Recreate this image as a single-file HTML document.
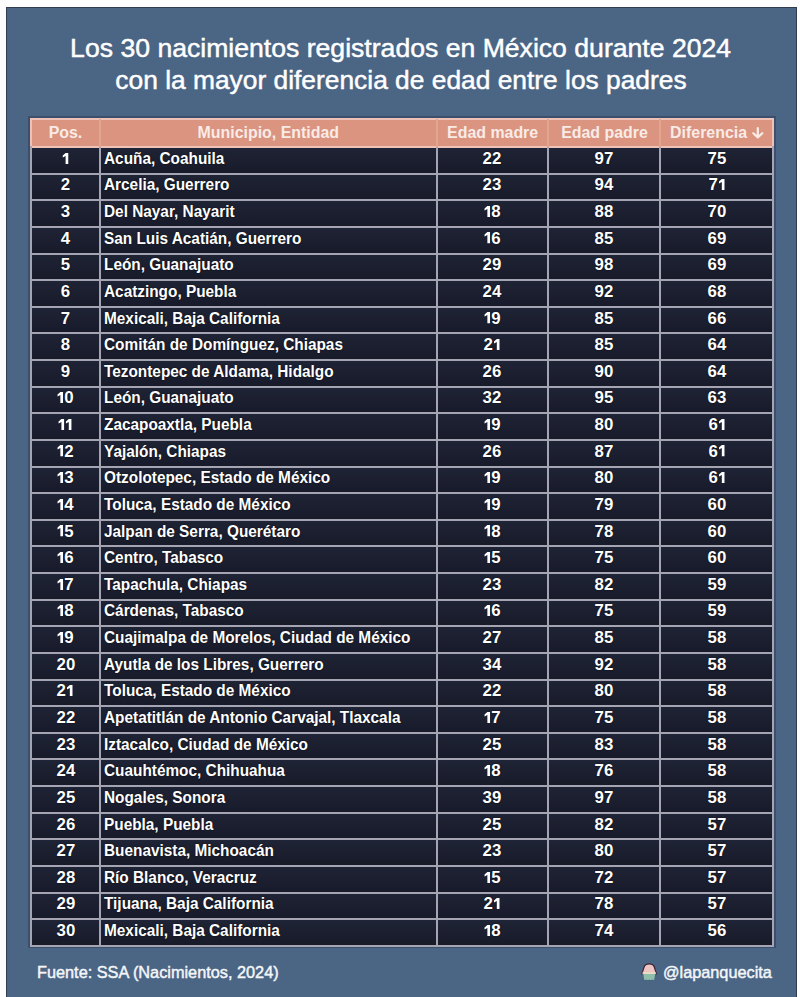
<!DOCTYPE html>
<html><head><meta charset="utf-8">
<style>
html,body{margin:0;padding:0;}
body{width:800px;height:997px;position:relative;overflow:hidden;background:#fdfdfd;font-family:"Liberation Sans",sans-serif;}
.panel{position:absolute;left:5.5px;top:6.8px;width:789.5px;height:995px;background:#4b6585;border:1.5px solid #2f3c52;border-bottom:none;}
.title{position:absolute;left:0;width:802px;text-align:center;color:#fff;font-size:25px;letter-spacing:0px;line-height:31px;white-space:nowrap;-webkit-text-stroke:0.45px #fff;}
.title span{display:inline-block;transform-origin:50% 50%;}
.halo{position:absolute;background:rgba(42,44,72,0.4);}
.tbl{position:absolute;background:#1b1f31;}
.hdr{position:absolute;background:#da9480;}
.hl,.vl{position:absolute;background:#a5a4b3;}
.hh{position:absolute;background:#eec2b6;}
.hv{position:absolute;background:#e2a690;}
.ht{position:absolute;text-align:center;color:#f9ebe6;font-weight:bold;font-size:15.6px;line-height:24px;white-space:nowrap;}
.ht span,.rt span{display:inline-block;transform-origin:50% 50%;}
.rt.l span{transform-origin:0 50%;}
.arr{vertical-align:-1px;}
.rt{position:absolute;text-align:center;color:#fff;font-weight:bold;font-size:16px;line-height:24px;white-space:nowrap;text-shadow:0 0 1.5px rgba(0,0,0,0.9);}
.rt.l{text-align:left;}
.one{vertical-align:baseline;}
.foot{position:absolute;color:#f4f6f8;font-size:16.3px;line-height:20px;white-space:nowrap;-webkit-text-stroke:0.45px #f4f6f8;}
</style></head><body>
<div class="panel"></div>
<div class="title" style="top:32.6px"><span style="transform:scaleX(1.064)">Los 30 nacimientos registrados en México durante 2024</span></div>
<div class="title" style="top:64.6px"><span style="transform:scaleX(1.054)">con la mayor diferencia de edad entre los padres</span></div>
<div class="halo" style="left:28.00px;top:116.40px;width:747.60px;height:832.10px"></div>
<div class="tbl" style="left:30.60px;top:147px;width:742.40px;height:27px;background:linear-gradient(to bottom,#1f2436,#171a29)"></div>
<div class="tbl" style="left:30.60px;top:174px;width:742.40px;height:26px;background:linear-gradient(to bottom,#1f2436,#171a29)"></div>
<div class="tbl" style="left:30.60px;top:200px;width:742.40px;height:27px;background:linear-gradient(to bottom,#1f2436,#171a29)"></div>
<div class="tbl" style="left:30.60px;top:227px;width:742.40px;height:27px;background:linear-gradient(to bottom,#1f2436,#171a29)"></div>
<div class="tbl" style="left:30.60px;top:254px;width:742.40px;height:26px;background:linear-gradient(to bottom,#1f2436,#171a29)"></div>
<div class="tbl" style="left:30.60px;top:280px;width:742.40px;height:27px;background:linear-gradient(to bottom,#1f2436,#171a29)"></div>
<div class="tbl" style="left:30.60px;top:307px;width:742.40px;height:26px;background:linear-gradient(to bottom,#1f2436,#171a29)"></div>
<div class="tbl" style="left:30.60px;top:333px;width:742.40px;height:27px;background:linear-gradient(to bottom,#1f2436,#171a29)"></div>
<div class="tbl" style="left:30.60px;top:360px;width:742.40px;height:27px;background:linear-gradient(to bottom,#1f2436,#171a29)"></div>
<div class="tbl" style="left:30.60px;top:387px;width:742.40px;height:26px;background:linear-gradient(to bottom,#1f2436,#171a29)"></div>
<div class="tbl" style="left:30.60px;top:413px;width:742.40px;height:27px;background:linear-gradient(to bottom,#1f2436,#171a29)"></div>
<div class="tbl" style="left:30.60px;top:440px;width:742.40px;height:27px;background:linear-gradient(to bottom,#1f2436,#171a29)"></div>
<div class="tbl" style="left:30.60px;top:467px;width:742.40px;height:26px;background:linear-gradient(to bottom,#1f2436,#171a29)"></div>
<div class="tbl" style="left:30.60px;top:493px;width:742.40px;height:27px;background:linear-gradient(to bottom,#1f2436,#171a29)"></div>
<div class="tbl" style="left:30.60px;top:520px;width:742.40px;height:26px;background:linear-gradient(to bottom,#1f2436,#171a29)"></div>
<div class="tbl" style="left:30.60px;top:546px;width:742.40px;height:27px;background:linear-gradient(to bottom,#1f2436,#171a29)"></div>
<div class="tbl" style="left:30.60px;top:573px;width:742.40px;height:27px;background:linear-gradient(to bottom,#1f2436,#171a29)"></div>
<div class="tbl" style="left:30.60px;top:600px;width:742.40px;height:26px;background:linear-gradient(to bottom,#1f2436,#171a29)"></div>
<div class="tbl" style="left:30.60px;top:626px;width:742.40px;height:27px;background:linear-gradient(to bottom,#1f2436,#171a29)"></div>
<div class="tbl" style="left:30.60px;top:653px;width:742.40px;height:27px;background:linear-gradient(to bottom,#1f2436,#171a29)"></div>
<div class="tbl" style="left:30.60px;top:680px;width:742.40px;height:26px;background:linear-gradient(to bottom,#1f2436,#171a29)"></div>
<div class="tbl" style="left:30.60px;top:706px;width:742.40px;height:27px;background:linear-gradient(to bottom,#1f2436,#171a29)"></div>
<div class="tbl" style="left:30.60px;top:733px;width:742.40px;height:26px;background:linear-gradient(to bottom,#1f2436,#171a29)"></div>
<div class="tbl" style="left:30.60px;top:759px;width:742.40px;height:27px;background:linear-gradient(to bottom,#1f2436,#171a29)"></div>
<div class="tbl" style="left:30.60px;top:786px;width:742.40px;height:27px;background:linear-gradient(to bottom,#1f2436,#171a29)"></div>
<div class="tbl" style="left:30.60px;top:813px;width:742.40px;height:26px;background:linear-gradient(to bottom,#1f2436,#171a29)"></div>
<div class="tbl" style="left:30.60px;top:839px;width:742.40px;height:27px;background:linear-gradient(to bottom,#1f2436,#171a29)"></div>
<div class="tbl" style="left:30.60px;top:866px;width:742.40px;height:27px;background:linear-gradient(to bottom,#1f2436,#171a29)"></div>
<div class="tbl" style="left:30.60px;top:893px;width:742.40px;height:26px;background:linear-gradient(to bottom,#1f2436,#171a29)"></div>
<div class="tbl" style="left:30.60px;top:919px;width:742.40px;height:27px;background:linear-gradient(to bottom,#1f2436,#171a29)"></div>
<div class="hdr" style="left:29.50px;top:117.90px;width:744.60px;height:29.10px"></div>
<div class="hh" style="left:29.50px;top:146px;width:744.60px;height:2px"></div>
<div class="hl" style="left:29.50px;top:173px;width:744.60px;height:2px"></div>
<div class="hl" style="left:29.50px;top:199px;width:744.60px;height:2px"></div>
<div class="hl" style="left:29.50px;top:226px;width:744.60px;height:2px"></div>
<div class="hl" style="left:29.50px;top:253px;width:744.60px;height:2px"></div>
<div class="hl" style="left:29.50px;top:279px;width:744.60px;height:2px"></div>
<div class="hl" style="left:29.50px;top:306px;width:744.60px;height:2px"></div>
<div class="hl" style="left:29.50px;top:332px;width:744.60px;height:2px"></div>
<div class="hl" style="left:29.50px;top:359px;width:744.60px;height:2px"></div>
<div class="hl" style="left:29.50px;top:386px;width:744.60px;height:2px"></div>
<div class="hl" style="left:29.50px;top:412px;width:744.60px;height:2px"></div>
<div class="hl" style="left:29.50px;top:439px;width:744.60px;height:2px"></div>
<div class="hl" style="left:29.50px;top:466px;width:744.60px;height:2px"></div>
<div class="hl" style="left:29.50px;top:492px;width:744.60px;height:2px"></div>
<div class="hl" style="left:29.50px;top:519px;width:744.60px;height:2px"></div>
<div class="hl" style="left:29.50px;top:545px;width:744.60px;height:2px"></div>
<div class="hl" style="left:29.50px;top:572px;width:744.60px;height:2px"></div>
<div class="hl" style="left:29.50px;top:599px;width:744.60px;height:2px"></div>
<div class="hl" style="left:29.50px;top:625px;width:744.60px;height:2px"></div>
<div class="hl" style="left:29.50px;top:652px;width:744.60px;height:2px"></div>
<div class="hl" style="left:29.50px;top:679px;width:744.60px;height:2px"></div>
<div class="hl" style="left:29.50px;top:705px;width:744.60px;height:2px"></div>
<div class="hl" style="left:29.50px;top:732px;width:744.60px;height:2px"></div>
<div class="hl" style="left:29.50px;top:758px;width:744.60px;height:2px"></div>
<div class="hl" style="left:29.50px;top:785px;width:744.60px;height:2px"></div>
<div class="hl" style="left:29.50px;top:812px;width:744.60px;height:2px"></div>
<div class="hl" style="left:29.50px;top:838px;width:744.60px;height:2px"></div>
<div class="hl" style="left:29.50px;top:865px;width:744.60px;height:2px"></div>
<div class="hl" style="left:29.50px;top:892px;width:744.60px;height:2px"></div>
<div class="hl" style="left:29.50px;top:918px;width:744.60px;height:2px"></div>
<div class="hl" style="left:29.50px;top:945px;width:744.60px;height:2px"></div>
<div class="vl" style="left:29.50px;top:145.90px;width:2.2px;height:801.10px"></div>
<div class="vl" style="left:99.20px;top:145.90px;width:2.2px;height:801.10px"></div>
<div class="vl" style="left:435.50px;top:145.90px;width:2.2px;height:801.10px"></div>
<div class="vl" style="left:546.70px;top:145.90px;width:2.2px;height:801.10px"></div>
<div class="vl" style="left:659.10px;top:145.90px;width:2.2px;height:801.10px"></div>
<div class="vl" style="left:771.90px;top:145.90px;width:2.2px;height:801.10px"></div>
<div class="hh" style="left:29.50px;top:118.00px;width:744.60px;height:2.0px"></div>
<div class="hh" style="left:29.60px;top:118.00px;width:2.0px;height:28.00px"></div>
<div class="hh" style="left:772.00px;top:118.00px;width:2.0px;height:28.00px"></div>
<div class="hv" style="left:99.30px;top:119.00px;width:2.0px;height:28.00px"></div>
<div class="hv" style="left:435.60px;top:119.00px;width:2.0px;height:28.00px"></div>
<div class="hv" style="left:546.80px;top:119.00px;width:2.0px;height:28.00px"></div>
<div class="hv" style="left:659.20px;top:119.00px;width:2.0px;height:28.00px"></div>
<div class="ht" style="left:30.60px;width:69.70px;top:120.89px"><span style="transform:scaleX(1.02)">Pos.</span></div>
<div class="ht" style="left:100.30px;width:336.30px;top:120.89px"><span style="transform:scaleX(1.02)">Municipio, Entidad</span></div>
<div class="ht" style="left:436.60px;width:111.20px;top:120.89px"><span style="transform:scaleX(1.02)">Edad madre</span></div>
<div class="ht" style="left:547.80px;width:112.40px;top:120.89px"><span style="transform:scaleX(1.02)">Edad padre</span></div>
<div class="ht" style="left:660.20px;width:112.80px;top:120.89px"><span style="transform:scaleX(1.02)">Diferencia <svg class="arr" width="12" height="12" viewBox="0 0 12 12"><path d="M6 1.2V10.4M1.6 6.2L6 10.4L10.4 6.2" stroke="#f9ebe6" stroke-width="2.2" fill="none" stroke-linecap="round" stroke-linejoin="round"/></svg></span></div>
<div class="rt" style="left:30.60px;width:69.70px;top:146.75px"><span style="transform:scaleX(1.05)"><svg class="one" width="7.2" height="11.2" viewBox="0 0 7.2 11.2"><path d="M3.6 0.1H6.15V11.2H3.6V3.1L0.9 4.6V2.5Z" fill="#fff"/></svg></span></div>
<div class="rt l" style="left:104.10px;width:336.3px;top:146.75px"><span style="transform:scaleX(0.96)">Acuña, Coahuila</span></div>
<div class="rt" style="left:436.60px;width:111.20px;top:146.75px"><span style="transform:scaleX(1.05)">22</span></div>
<div class="rt" style="left:547.80px;width:112.40px;top:146.75px"><span style="transform:scaleX(1.05)">97</span></div>
<div class="rt" style="left:660.20px;width:112.80px;top:146.75px"><span style="transform:scaleX(1.05)">75</span></div>
<div class="rt" style="left:30.60px;width:69.70px;top:173.38px"><span style="transform:scaleX(1.05)">2</span></div>
<div class="rt l" style="left:104.10px;width:336.3px;top:173.38px"><span style="transform:scaleX(0.96)">Arcelia, Guerrero</span></div>
<div class="rt" style="left:436.60px;width:111.20px;top:173.38px"><span style="transform:scaleX(1.05)">23</span></div>
<div class="rt" style="left:547.80px;width:112.40px;top:173.38px"><span style="transform:scaleX(1.05)">94</span></div>
<div class="rt" style="left:660.20px;width:112.80px;top:173.38px"><span style="transform:scaleX(1.05)">7<svg class="one" width="7.2" height="11.2" viewBox="0 0 7.2 11.2"><path d="M3.6 0.1H6.15V11.2H3.6V3.1L0.9 4.6V2.5Z" fill="#fff"/></svg></span></div>
<div class="rt" style="left:30.60px;width:69.70px;top:200.01px"><span style="transform:scaleX(1.05)">3</span></div>
<div class="rt l" style="left:104.10px;width:336.3px;top:200.01px"><span style="transform:scaleX(0.96)">Del Nayar, Nayarit</span></div>
<div class="rt" style="left:436.60px;width:111.20px;top:200.01px"><span style="transform:scaleX(1.05)"><svg class="one" width="7.2" height="11.2" viewBox="0 0 7.2 11.2"><path d="M3.6 0.1H6.15V11.2H3.6V3.1L0.9 4.6V2.5Z" fill="#fff"/></svg>8</span></div>
<div class="rt" style="left:547.80px;width:112.40px;top:200.01px"><span style="transform:scaleX(1.05)">88</span></div>
<div class="rt" style="left:660.20px;width:112.80px;top:200.01px"><span style="transform:scaleX(1.05)">70</span></div>
<div class="rt" style="left:30.60px;width:69.70px;top:226.64px"><span style="transform:scaleX(1.05)">4</span></div>
<div class="rt l" style="left:104.10px;width:336.3px;top:226.64px"><span style="transform:scaleX(0.96)">San Luis Acatián, Guerrero</span></div>
<div class="rt" style="left:436.60px;width:111.20px;top:226.64px"><span style="transform:scaleX(1.05)"><svg class="one" width="7.2" height="11.2" viewBox="0 0 7.2 11.2"><path d="M3.6 0.1H6.15V11.2H3.6V3.1L0.9 4.6V2.5Z" fill="#fff"/></svg>6</span></div>
<div class="rt" style="left:547.80px;width:112.40px;top:226.64px"><span style="transform:scaleX(1.05)">85</span></div>
<div class="rt" style="left:660.20px;width:112.80px;top:226.64px"><span style="transform:scaleX(1.05)">69</span></div>
<div class="rt" style="left:30.60px;width:69.70px;top:253.27px"><span style="transform:scaleX(1.05)">5</span></div>
<div class="rt l" style="left:104.10px;width:336.3px;top:253.27px"><span style="transform:scaleX(0.96)">León, Guanajuato</span></div>
<div class="rt" style="left:436.60px;width:111.20px;top:253.27px"><span style="transform:scaleX(1.05)">29</span></div>
<div class="rt" style="left:547.80px;width:112.40px;top:253.27px"><span style="transform:scaleX(1.05)">98</span></div>
<div class="rt" style="left:660.20px;width:112.80px;top:253.27px"><span style="transform:scaleX(1.05)">69</span></div>
<div class="rt" style="left:30.60px;width:69.70px;top:279.90px"><span style="transform:scaleX(1.05)">6</span></div>
<div class="rt l" style="left:104.10px;width:336.3px;top:279.90px"><span style="transform:scaleX(0.96)">Acatzingo, Puebla</span></div>
<div class="rt" style="left:436.60px;width:111.20px;top:279.90px"><span style="transform:scaleX(1.05)">24</span></div>
<div class="rt" style="left:547.80px;width:112.40px;top:279.90px"><span style="transform:scaleX(1.05)">92</span></div>
<div class="rt" style="left:660.20px;width:112.80px;top:279.90px"><span style="transform:scaleX(1.05)">68</span></div>
<div class="rt" style="left:30.60px;width:69.70px;top:306.53px"><span style="transform:scaleX(1.05)">7</span></div>
<div class="rt l" style="left:104.10px;width:336.3px;top:306.53px"><span style="transform:scaleX(0.96)">Mexicali, Baja California</span></div>
<div class="rt" style="left:436.60px;width:111.20px;top:306.53px"><span style="transform:scaleX(1.05)"><svg class="one" width="7.2" height="11.2" viewBox="0 0 7.2 11.2"><path d="M3.6 0.1H6.15V11.2H3.6V3.1L0.9 4.6V2.5Z" fill="#fff"/></svg>9</span></div>
<div class="rt" style="left:547.80px;width:112.40px;top:306.53px"><span style="transform:scaleX(1.05)">85</span></div>
<div class="rt" style="left:660.20px;width:112.80px;top:306.53px"><span style="transform:scaleX(1.05)">66</span></div>
<div class="rt" style="left:30.60px;width:69.70px;top:333.16px"><span style="transform:scaleX(1.05)">8</span></div>
<div class="rt l" style="left:104.10px;width:336.3px;top:333.16px"><span style="transform:scaleX(0.96)">Comitán de Domínguez, Chiapas</span></div>
<div class="rt" style="left:436.60px;width:111.20px;top:333.16px"><span style="transform:scaleX(1.05)">2<svg class="one" width="7.2" height="11.2" viewBox="0 0 7.2 11.2"><path d="M3.6 0.1H6.15V11.2H3.6V3.1L0.9 4.6V2.5Z" fill="#fff"/></svg></span></div>
<div class="rt" style="left:547.80px;width:112.40px;top:333.16px"><span style="transform:scaleX(1.05)">85</span></div>
<div class="rt" style="left:660.20px;width:112.80px;top:333.16px"><span style="transform:scaleX(1.05)">64</span></div>
<div class="rt" style="left:30.60px;width:69.70px;top:359.79px"><span style="transform:scaleX(1.05)">9</span></div>
<div class="rt l" style="left:104.10px;width:336.3px;top:359.79px"><span style="transform:scaleX(0.96)">Tezontepec de Aldama, Hidalgo</span></div>
<div class="rt" style="left:436.60px;width:111.20px;top:359.79px"><span style="transform:scaleX(1.05)">26</span></div>
<div class="rt" style="left:547.80px;width:112.40px;top:359.79px"><span style="transform:scaleX(1.05)">90</span></div>
<div class="rt" style="left:660.20px;width:112.80px;top:359.79px"><span style="transform:scaleX(1.05)">64</span></div>
<div class="rt" style="left:30.60px;width:69.70px;top:386.42px"><span style="transform:scaleX(1.05)"><svg class="one" width="7.2" height="11.2" viewBox="0 0 7.2 11.2"><path d="M3.6 0.1H6.15V11.2H3.6V3.1L0.9 4.6V2.5Z" fill="#fff"/></svg>0</span></div>
<div class="rt l" style="left:104.10px;width:336.3px;top:386.42px"><span style="transform:scaleX(0.96)">León, Guanajuato</span></div>
<div class="rt" style="left:436.60px;width:111.20px;top:386.42px"><span style="transform:scaleX(1.05)">32</span></div>
<div class="rt" style="left:547.80px;width:112.40px;top:386.42px"><span style="transform:scaleX(1.05)">95</span></div>
<div class="rt" style="left:660.20px;width:112.80px;top:386.42px"><span style="transform:scaleX(1.05)">63</span></div>
<div class="rt" style="left:30.60px;width:69.70px;top:413.05px"><span style="transform:scaleX(1.05)"><svg class="one" width="7.2" height="11.2" viewBox="0 0 7.2 11.2"><path d="M3.6 0.1H6.15V11.2H3.6V3.1L0.9 4.6V2.5Z" fill="#fff"/></svg><svg class="one" width="7.2" height="11.2" viewBox="0 0 7.2 11.2"><path d="M3.6 0.1H6.15V11.2H3.6V3.1L0.9 4.6V2.5Z" fill="#fff"/></svg></span></div>
<div class="rt l" style="left:104.10px;width:336.3px;top:413.05px"><span style="transform:scaleX(0.96)">Zacapoaxtla, Puebla</span></div>
<div class="rt" style="left:436.60px;width:111.20px;top:413.05px"><span style="transform:scaleX(1.05)"><svg class="one" width="7.2" height="11.2" viewBox="0 0 7.2 11.2"><path d="M3.6 0.1H6.15V11.2H3.6V3.1L0.9 4.6V2.5Z" fill="#fff"/></svg>9</span></div>
<div class="rt" style="left:547.80px;width:112.40px;top:413.05px"><span style="transform:scaleX(1.05)">80</span></div>
<div class="rt" style="left:660.20px;width:112.80px;top:413.05px"><span style="transform:scaleX(1.05)">6<svg class="one" width="7.2" height="11.2" viewBox="0 0 7.2 11.2"><path d="M3.6 0.1H6.15V11.2H3.6V3.1L0.9 4.6V2.5Z" fill="#fff"/></svg></span></div>
<div class="rt" style="left:30.60px;width:69.70px;top:439.68px"><span style="transform:scaleX(1.05)"><svg class="one" width="7.2" height="11.2" viewBox="0 0 7.2 11.2"><path d="M3.6 0.1H6.15V11.2H3.6V3.1L0.9 4.6V2.5Z" fill="#fff"/></svg>2</span></div>
<div class="rt l" style="left:104.10px;width:336.3px;top:439.68px"><span style="transform:scaleX(0.96)">Yajalón, Chiapas</span></div>
<div class="rt" style="left:436.60px;width:111.20px;top:439.68px"><span style="transform:scaleX(1.05)">26</span></div>
<div class="rt" style="left:547.80px;width:112.40px;top:439.68px"><span style="transform:scaleX(1.05)">87</span></div>
<div class="rt" style="left:660.20px;width:112.80px;top:439.68px"><span style="transform:scaleX(1.05)">6<svg class="one" width="7.2" height="11.2" viewBox="0 0 7.2 11.2"><path d="M3.6 0.1H6.15V11.2H3.6V3.1L0.9 4.6V2.5Z" fill="#fff"/></svg></span></div>
<div class="rt" style="left:30.60px;width:69.70px;top:466.31px"><span style="transform:scaleX(1.05)"><svg class="one" width="7.2" height="11.2" viewBox="0 0 7.2 11.2"><path d="M3.6 0.1H6.15V11.2H3.6V3.1L0.9 4.6V2.5Z" fill="#fff"/></svg>3</span></div>
<div class="rt l" style="left:104.10px;width:336.3px;top:466.31px"><span style="transform:scaleX(0.96)">Otzolotepec, Estado de México</span></div>
<div class="rt" style="left:436.60px;width:111.20px;top:466.31px"><span style="transform:scaleX(1.05)"><svg class="one" width="7.2" height="11.2" viewBox="0 0 7.2 11.2"><path d="M3.6 0.1H6.15V11.2H3.6V3.1L0.9 4.6V2.5Z" fill="#fff"/></svg>9</span></div>
<div class="rt" style="left:547.80px;width:112.40px;top:466.31px"><span style="transform:scaleX(1.05)">80</span></div>
<div class="rt" style="left:660.20px;width:112.80px;top:466.31px"><span style="transform:scaleX(1.05)">6<svg class="one" width="7.2" height="11.2" viewBox="0 0 7.2 11.2"><path d="M3.6 0.1H6.15V11.2H3.6V3.1L0.9 4.6V2.5Z" fill="#fff"/></svg></span></div>
<div class="rt" style="left:30.60px;width:69.70px;top:492.94px"><span style="transform:scaleX(1.05)"><svg class="one" width="7.2" height="11.2" viewBox="0 0 7.2 11.2"><path d="M3.6 0.1H6.15V11.2H3.6V3.1L0.9 4.6V2.5Z" fill="#fff"/></svg>4</span></div>
<div class="rt l" style="left:104.10px;width:336.3px;top:492.94px"><span style="transform:scaleX(0.96)">Toluca, Estado de México</span></div>
<div class="rt" style="left:436.60px;width:111.20px;top:492.94px"><span style="transform:scaleX(1.05)"><svg class="one" width="7.2" height="11.2" viewBox="0 0 7.2 11.2"><path d="M3.6 0.1H6.15V11.2H3.6V3.1L0.9 4.6V2.5Z" fill="#fff"/></svg>9</span></div>
<div class="rt" style="left:547.80px;width:112.40px;top:492.94px"><span style="transform:scaleX(1.05)">79</span></div>
<div class="rt" style="left:660.20px;width:112.80px;top:492.94px"><span style="transform:scaleX(1.05)">60</span></div>
<div class="rt" style="left:30.60px;width:69.70px;top:519.57px"><span style="transform:scaleX(1.05)"><svg class="one" width="7.2" height="11.2" viewBox="0 0 7.2 11.2"><path d="M3.6 0.1H6.15V11.2H3.6V3.1L0.9 4.6V2.5Z" fill="#fff"/></svg>5</span></div>
<div class="rt l" style="left:104.10px;width:336.3px;top:519.57px"><span style="transform:scaleX(0.96)">Jalpan de Serra, Querétaro</span></div>
<div class="rt" style="left:436.60px;width:111.20px;top:519.57px"><span style="transform:scaleX(1.05)"><svg class="one" width="7.2" height="11.2" viewBox="0 0 7.2 11.2"><path d="M3.6 0.1H6.15V11.2H3.6V3.1L0.9 4.6V2.5Z" fill="#fff"/></svg>8</span></div>
<div class="rt" style="left:547.80px;width:112.40px;top:519.57px"><span style="transform:scaleX(1.05)">78</span></div>
<div class="rt" style="left:660.20px;width:112.80px;top:519.57px"><span style="transform:scaleX(1.05)">60</span></div>
<div class="rt" style="left:30.60px;width:69.70px;top:546.20px"><span style="transform:scaleX(1.05)"><svg class="one" width="7.2" height="11.2" viewBox="0 0 7.2 11.2"><path d="M3.6 0.1H6.15V11.2H3.6V3.1L0.9 4.6V2.5Z" fill="#fff"/></svg>6</span></div>
<div class="rt l" style="left:104.10px;width:336.3px;top:546.20px"><span style="transform:scaleX(0.96)">Centro, Tabasco</span></div>
<div class="rt" style="left:436.60px;width:111.20px;top:546.20px"><span style="transform:scaleX(1.05)"><svg class="one" width="7.2" height="11.2" viewBox="0 0 7.2 11.2"><path d="M3.6 0.1H6.15V11.2H3.6V3.1L0.9 4.6V2.5Z" fill="#fff"/></svg>5</span></div>
<div class="rt" style="left:547.80px;width:112.40px;top:546.20px"><span style="transform:scaleX(1.05)">75</span></div>
<div class="rt" style="left:660.20px;width:112.80px;top:546.20px"><span style="transform:scaleX(1.05)">60</span></div>
<div class="rt" style="left:30.60px;width:69.70px;top:572.83px"><span style="transform:scaleX(1.05)"><svg class="one" width="7.2" height="11.2" viewBox="0 0 7.2 11.2"><path d="M3.6 0.1H6.15V11.2H3.6V3.1L0.9 4.6V2.5Z" fill="#fff"/></svg>7</span></div>
<div class="rt l" style="left:104.10px;width:336.3px;top:572.83px"><span style="transform:scaleX(0.96)">Tapachula, Chiapas</span></div>
<div class="rt" style="left:436.60px;width:111.20px;top:572.83px"><span style="transform:scaleX(1.05)">23</span></div>
<div class="rt" style="left:547.80px;width:112.40px;top:572.83px"><span style="transform:scaleX(1.05)">82</span></div>
<div class="rt" style="left:660.20px;width:112.80px;top:572.83px"><span style="transform:scaleX(1.05)">59</span></div>
<div class="rt" style="left:30.60px;width:69.70px;top:599.46px"><span style="transform:scaleX(1.05)"><svg class="one" width="7.2" height="11.2" viewBox="0 0 7.2 11.2"><path d="M3.6 0.1H6.15V11.2H3.6V3.1L0.9 4.6V2.5Z" fill="#fff"/></svg>8</span></div>
<div class="rt l" style="left:104.10px;width:336.3px;top:599.46px"><span style="transform:scaleX(0.96)">Cárdenas, Tabasco</span></div>
<div class="rt" style="left:436.60px;width:111.20px;top:599.46px"><span style="transform:scaleX(1.05)"><svg class="one" width="7.2" height="11.2" viewBox="0 0 7.2 11.2"><path d="M3.6 0.1H6.15V11.2H3.6V3.1L0.9 4.6V2.5Z" fill="#fff"/></svg>6</span></div>
<div class="rt" style="left:547.80px;width:112.40px;top:599.46px"><span style="transform:scaleX(1.05)">75</span></div>
<div class="rt" style="left:660.20px;width:112.80px;top:599.46px"><span style="transform:scaleX(1.05)">59</span></div>
<div class="rt" style="left:30.60px;width:69.70px;top:626.09px"><span style="transform:scaleX(1.05)"><svg class="one" width="7.2" height="11.2" viewBox="0 0 7.2 11.2"><path d="M3.6 0.1H6.15V11.2H3.6V3.1L0.9 4.6V2.5Z" fill="#fff"/></svg>9</span></div>
<div class="rt l" style="left:104.10px;width:336.3px;top:626.09px"><span style="transform:scaleX(0.96)">Cuajimalpa de Morelos, Ciudad de México</span></div>
<div class="rt" style="left:436.60px;width:111.20px;top:626.09px"><span style="transform:scaleX(1.05)">27</span></div>
<div class="rt" style="left:547.80px;width:112.40px;top:626.09px"><span style="transform:scaleX(1.05)">85</span></div>
<div class="rt" style="left:660.20px;width:112.80px;top:626.09px"><span style="transform:scaleX(1.05)">58</span></div>
<div class="rt" style="left:30.60px;width:69.70px;top:652.72px"><span style="transform:scaleX(1.05)">20</span></div>
<div class="rt l" style="left:104.10px;width:336.3px;top:652.72px"><span style="transform:scaleX(0.96)">Ayutla de los Libres, Guerrero</span></div>
<div class="rt" style="left:436.60px;width:111.20px;top:652.72px"><span style="transform:scaleX(1.05)">34</span></div>
<div class="rt" style="left:547.80px;width:112.40px;top:652.72px"><span style="transform:scaleX(1.05)">92</span></div>
<div class="rt" style="left:660.20px;width:112.80px;top:652.72px"><span style="transform:scaleX(1.05)">58</span></div>
<div class="rt" style="left:30.60px;width:69.70px;top:679.35px"><span style="transform:scaleX(1.05)">2<svg class="one" width="7.2" height="11.2" viewBox="0 0 7.2 11.2"><path d="M3.6 0.1H6.15V11.2H3.6V3.1L0.9 4.6V2.5Z" fill="#fff"/></svg></span></div>
<div class="rt l" style="left:104.10px;width:336.3px;top:679.35px"><span style="transform:scaleX(0.96)">Toluca, Estado de México</span></div>
<div class="rt" style="left:436.60px;width:111.20px;top:679.35px"><span style="transform:scaleX(1.05)">22</span></div>
<div class="rt" style="left:547.80px;width:112.40px;top:679.35px"><span style="transform:scaleX(1.05)">80</span></div>
<div class="rt" style="left:660.20px;width:112.80px;top:679.35px"><span style="transform:scaleX(1.05)">58</span></div>
<div class="rt" style="left:30.60px;width:69.70px;top:705.98px"><span style="transform:scaleX(1.05)">22</span></div>
<div class="rt l" style="left:104.10px;width:336.3px;top:705.98px"><span style="transform:scaleX(0.96)">Apetatitlán de Antonio Carvajal, Tlaxcala</span></div>
<div class="rt" style="left:436.60px;width:111.20px;top:705.98px"><span style="transform:scaleX(1.05)"><svg class="one" width="7.2" height="11.2" viewBox="0 0 7.2 11.2"><path d="M3.6 0.1H6.15V11.2H3.6V3.1L0.9 4.6V2.5Z" fill="#fff"/></svg>7</span></div>
<div class="rt" style="left:547.80px;width:112.40px;top:705.98px"><span style="transform:scaleX(1.05)">75</span></div>
<div class="rt" style="left:660.20px;width:112.80px;top:705.98px"><span style="transform:scaleX(1.05)">58</span></div>
<div class="rt" style="left:30.60px;width:69.70px;top:732.61px"><span style="transform:scaleX(1.05)">23</span></div>
<div class="rt l" style="left:104.10px;width:336.3px;top:732.61px"><span style="transform:scaleX(0.96)">Iztacalco, Ciudad de México</span></div>
<div class="rt" style="left:436.60px;width:111.20px;top:732.61px"><span style="transform:scaleX(1.05)">25</span></div>
<div class="rt" style="left:547.80px;width:112.40px;top:732.61px"><span style="transform:scaleX(1.05)">83</span></div>
<div class="rt" style="left:660.20px;width:112.80px;top:732.61px"><span style="transform:scaleX(1.05)">58</span></div>
<div class="rt" style="left:30.60px;width:69.70px;top:759.24px"><span style="transform:scaleX(1.05)">24</span></div>
<div class="rt l" style="left:104.10px;width:336.3px;top:759.24px"><span style="transform:scaleX(0.96)">Cuauhtémoc, Chihuahua</span></div>
<div class="rt" style="left:436.60px;width:111.20px;top:759.24px"><span style="transform:scaleX(1.05)"><svg class="one" width="7.2" height="11.2" viewBox="0 0 7.2 11.2"><path d="M3.6 0.1H6.15V11.2H3.6V3.1L0.9 4.6V2.5Z" fill="#fff"/></svg>8</span></div>
<div class="rt" style="left:547.80px;width:112.40px;top:759.24px"><span style="transform:scaleX(1.05)">76</span></div>
<div class="rt" style="left:660.20px;width:112.80px;top:759.24px"><span style="transform:scaleX(1.05)">58</span></div>
<div class="rt" style="left:30.60px;width:69.70px;top:785.87px"><span style="transform:scaleX(1.05)">25</span></div>
<div class="rt l" style="left:104.10px;width:336.3px;top:785.87px"><span style="transform:scaleX(0.96)">Nogales, Sonora</span></div>
<div class="rt" style="left:436.60px;width:111.20px;top:785.87px"><span style="transform:scaleX(1.05)">39</span></div>
<div class="rt" style="left:547.80px;width:112.40px;top:785.87px"><span style="transform:scaleX(1.05)">97</span></div>
<div class="rt" style="left:660.20px;width:112.80px;top:785.87px"><span style="transform:scaleX(1.05)">58</span></div>
<div class="rt" style="left:30.60px;width:69.70px;top:812.50px"><span style="transform:scaleX(1.05)">26</span></div>
<div class="rt l" style="left:104.10px;width:336.3px;top:812.50px"><span style="transform:scaleX(0.96)">Puebla, Puebla</span></div>
<div class="rt" style="left:436.60px;width:111.20px;top:812.50px"><span style="transform:scaleX(1.05)">25</span></div>
<div class="rt" style="left:547.80px;width:112.40px;top:812.50px"><span style="transform:scaleX(1.05)">82</span></div>
<div class="rt" style="left:660.20px;width:112.80px;top:812.50px"><span style="transform:scaleX(1.05)">57</span></div>
<div class="rt" style="left:30.60px;width:69.70px;top:839.13px"><span style="transform:scaleX(1.05)">27</span></div>
<div class="rt l" style="left:104.10px;width:336.3px;top:839.13px"><span style="transform:scaleX(0.96)">Buenavista, Michoacán</span></div>
<div class="rt" style="left:436.60px;width:111.20px;top:839.13px"><span style="transform:scaleX(1.05)">23</span></div>
<div class="rt" style="left:547.80px;width:112.40px;top:839.13px"><span style="transform:scaleX(1.05)">80</span></div>
<div class="rt" style="left:660.20px;width:112.80px;top:839.13px"><span style="transform:scaleX(1.05)">57</span></div>
<div class="rt" style="left:30.60px;width:69.70px;top:865.76px"><span style="transform:scaleX(1.05)">28</span></div>
<div class="rt l" style="left:104.10px;width:336.3px;top:865.76px"><span style="transform:scaleX(0.96)">Río Blanco, Veracruz</span></div>
<div class="rt" style="left:436.60px;width:111.20px;top:865.76px"><span style="transform:scaleX(1.05)"><svg class="one" width="7.2" height="11.2" viewBox="0 0 7.2 11.2"><path d="M3.6 0.1H6.15V11.2H3.6V3.1L0.9 4.6V2.5Z" fill="#fff"/></svg>5</span></div>
<div class="rt" style="left:547.80px;width:112.40px;top:865.76px"><span style="transform:scaleX(1.05)">72</span></div>
<div class="rt" style="left:660.20px;width:112.80px;top:865.76px"><span style="transform:scaleX(1.05)">57</span></div>
<div class="rt" style="left:30.60px;width:69.70px;top:892.39px"><span style="transform:scaleX(1.05)">29</span></div>
<div class="rt l" style="left:104.10px;width:336.3px;top:892.39px"><span style="transform:scaleX(0.96)">Tijuana, Baja California</span></div>
<div class="rt" style="left:436.60px;width:111.20px;top:892.39px"><span style="transform:scaleX(1.05)">2<svg class="one" width="7.2" height="11.2" viewBox="0 0 7.2 11.2"><path d="M3.6 0.1H6.15V11.2H3.6V3.1L0.9 4.6V2.5Z" fill="#fff"/></svg></span></div>
<div class="rt" style="left:547.80px;width:112.40px;top:892.39px"><span style="transform:scaleX(1.05)">78</span></div>
<div class="rt" style="left:660.20px;width:112.80px;top:892.39px"><span style="transform:scaleX(1.05)">57</span></div>
<div class="rt" style="left:30.60px;width:69.70px;top:919.02px"><span style="transform:scaleX(1.05)">30</span></div>
<div class="rt l" style="left:104.10px;width:336.3px;top:919.02px"><span style="transform:scaleX(0.96)">Mexicali, Baja California</span></div>
<div class="rt" style="left:436.60px;width:111.20px;top:919.02px"><span style="transform:scaleX(1.05)"><svg class="one" width="7.2" height="11.2" viewBox="0 0 7.2 11.2"><path d="M3.6 0.1H6.15V11.2H3.6V3.1L0.9 4.6V2.5Z" fill="#fff"/></svg>8</span></div>
<div class="rt" style="left:547.80px;width:112.40px;top:919.02px"><span style="transform:scaleX(1.05)">74</span></div>
<div class="rt" style="left:660.20px;width:112.80px;top:919.02px"><span style="transform:scaleX(1.05)">56</span></div>
<div class="foot" style="left:37px;top:962px">Fuente: SSA (Nacimientos, 2024)</div>
<div class="foot" style="left:663px;top:962px">@lapanquecita</div>
<svg style="position:absolute;left:638px;top:961px" width="22" height="22" viewBox="638 961 22 22">
<path d="M641.2 974.3 L643.6 966.4 C644.6 964.2 646.6 963.3 649.2 963.3 C651.8 963.3 653.8 964.2 654.8 966.4 L657.2 974.3 Z" fill="#3d2732"/>
<path d="M642.7 973.3 L644.8 967 C645.6 965.3 647.2 964.6 649.2 964.6 C651.2 964.6 652.8 965.3 653.6 967 L655.7 973.3 Z" fill="#efc5c3"/>
<rect x="642.6" y="972.2" width="13.2" height="1.9" fill="#e9dcc4"/>
<path d="M643.3 974.1 H655.1 L654.3 979.4 Q653.2 980.6 652 979.6 Q650.8 980.6 649.2 979.6 Q647.6 980.6 646.4 979.6 Q645.2 980.6 644.2 979.4 Z" fill="#8fbfaa"/>
</svg>
</body></html>
